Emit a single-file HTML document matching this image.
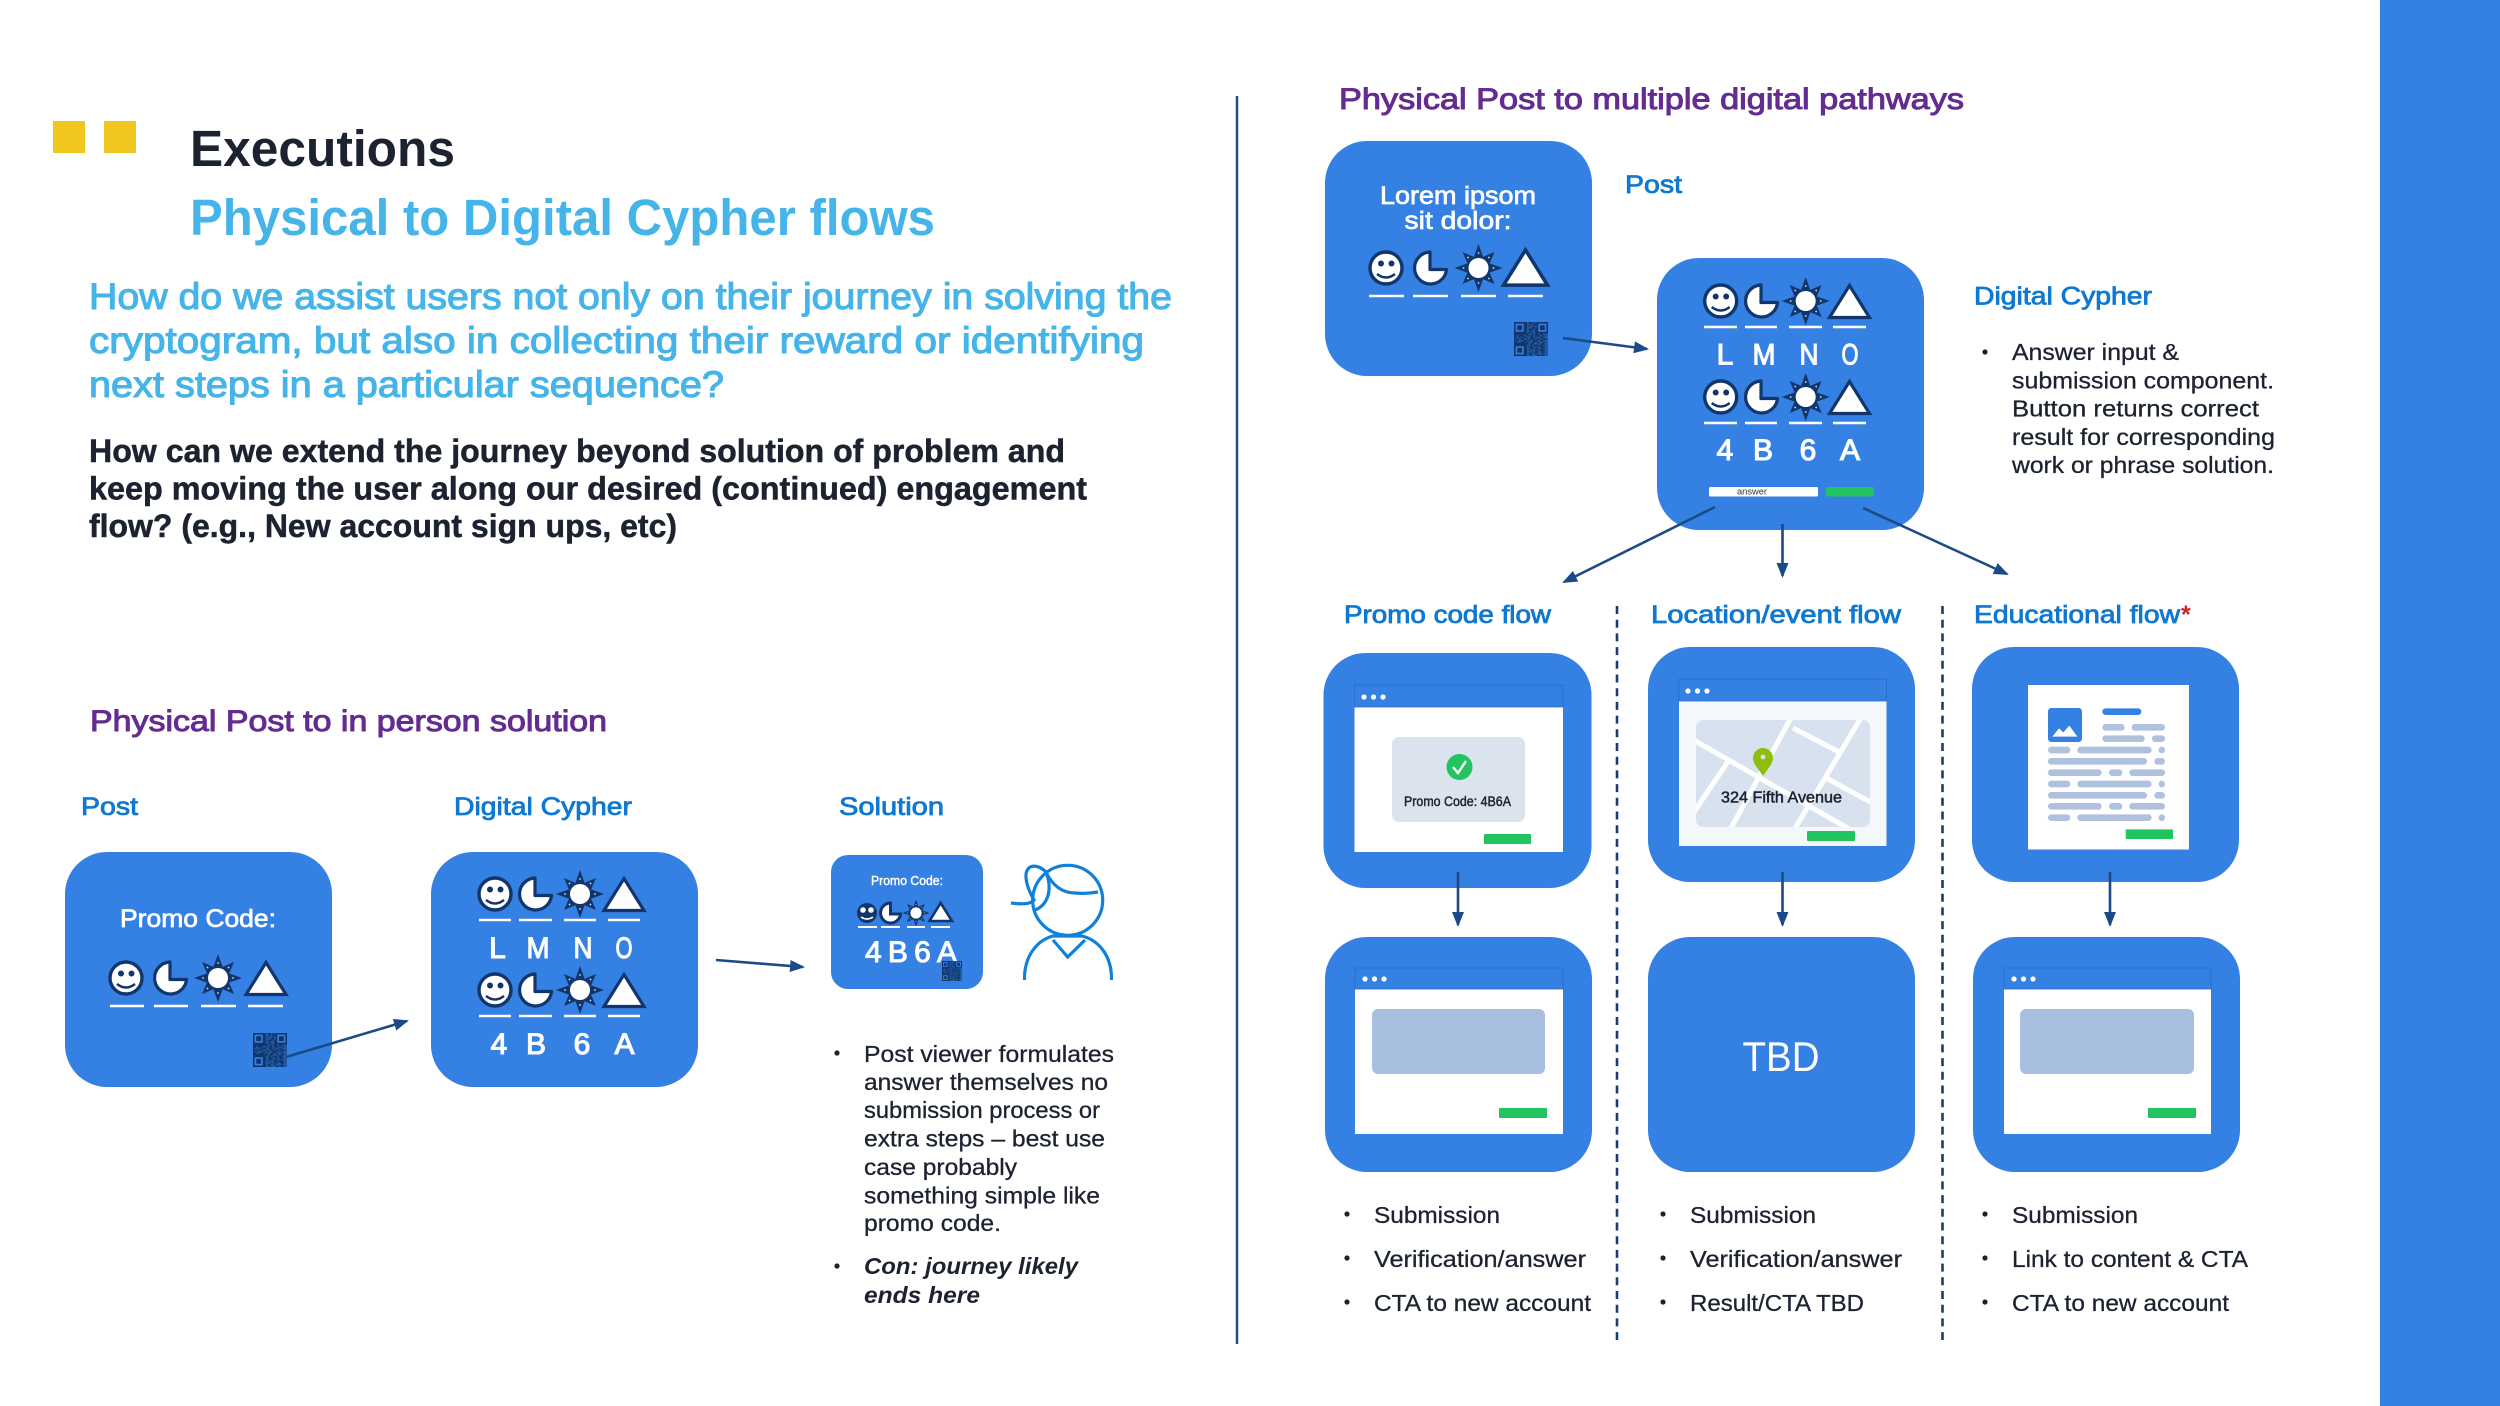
<!DOCTYPE html>
<html><head><meta charset="utf-8"><title>Executions</title>
<style>
html,body{margin:0;padding:0;background:#fff}
svg{display:block;font-family:"Liberation Sans",sans-serif}
.m{stroke-width:.6px;paint-order:stroke}
.h{font-size:25px;fill:#0f78d0;stroke:#0f78d0;stroke-width:.8px}
.b{font-size:23px;fill:#1c2230;stroke:#1c2230;stroke-width:.3px}
.p{font-size:30px;fill:#642c90;stroke:#642c90;stroke-width:1px}
.q{font-size:37px;fill:#45b4e8;stroke:#45b4e8;stroke-width:1.1px}
.k{font-size:32px;font-weight:bold;fill:#1c2230;stroke:#1c2230;stroke-width:.5px}
.l{font-size:30px;fill:#fff;stroke:#fff;text-anchor:middle;stroke-width:1.1px}
.w{font-size:25px;fill:#fff;stroke:#fff;text-anchor:middle;stroke-width:.7px}
.a{stroke:#1b4a86;stroke-width:2.6;fill:none;marker-end:url(#ah)}
.u{stroke:#fff;stroke-width:2.6}
</style></head><body>
<svg width="2500" height="1406" viewBox="0 0 2500 1406" xmlns="http://www.w3.org/2000/svg">
<defs>
<marker id="ah" markerUnits="userSpaceOnUse" markerWidth="16" markerHeight="14" refX="13" refY="6" orient="auto"><path d="M0 0L15 6L0 12Z" fill="#1b4a86"/></marker>
<g id="sm"><circle r="16" fill="#fff" stroke="#12366b" stroke-width="3.4"/><circle cx="-5" cy="-4.5" r="3" fill="#12366b"/><circle cx="5.5" cy="-4.5" r="3" fill="#12366b"/><path d="M-9 6Q0 13 9 6" fill="none" stroke="#12366b" stroke-width="2.4"/></g>
<g id="pi"><path d="M0 -16A16 16 0 1 0 16.5 1.5L0 1.5Z" fill="#fff" stroke="#12366b" stroke-width="3.2" stroke-linejoin="round"/></g>
<g id="st"><path d="M0 -24L4.6 -11.1L16 -16L11.1 -4.6L24 0L11.1 4.6L16 16L4.6 11.1L0 24L-4.6 11.1L-16 16L-11.1 4.6L-24 0L-11.1 -4.6L-16 -16L-4.6 -11.1Z" fill="#12366b"/><circle r="10" fill="#fff"/><g fill="#cfe0f5"><circle cy="-15" r=".9"/><circle cy="15" r=".9"/><circle cx="-15" r=".9"/><circle cx="15" r=".9"/><circle cx="10.5" cy="-10.5" r=".9"/><circle cx="-10.5" cy="-10.5" r=".9"/><circle cx="10.5" cy="10.5" r=".9"/><circle cx="-10.5" cy="10.5" r=".9"/></g></g>
<g id="tr"><path d="M0 -15.5L20 16.5L-20 16.5Z" fill="#fff" stroke="#12366b" stroke-width="3.2" stroke-linejoin="miter"/></g>
<g id="qr" fill="none" stroke="#12366b">
<rect width="21" height="21" fill="#12366b" fill-opacity=".55" stroke="none"/>
<path d="M0 .5h21" stroke-dasharray="8 1 2 1 1 1 7"/><path d="M0 1.5h21" stroke-dasharray="8 2 1 1 2 7"/>
<path d="M0 2.5h21" stroke-dasharray="8 1 1 2 1 1 7"/><path d="M0 3.5h21" stroke-dasharray="8 3 2 8"/>
<path d="M0 4.5h21" stroke-dasharray="8 1 3 1 8"/><path d="M0 5.5h21" stroke-dasharray="8 2 1 2 8"/>
<path d="M0 6.5h21" stroke-dasharray="8 1 2 2 8"/><path d="M0 7.5h21" stroke-dasharray="9 2 1 1 2 1 2 3"/>
<path d="M0 8.5h21" stroke-dasharray="2 1 3 2 1 1 2 1 3 2 1 2"/><path d="M0 9.5h21" stroke-dasharray="1 2 1 1 3 2 2 1 1 2 2 3"/>
<path d="M0 10.5h21" stroke-dasharray="3 1 2 2 1 1 3 1 2 1 3 1"/><path d="M0 11.5h21" stroke-dasharray="1 1 1 3 2 1 1 2 3 1 2 3"/>
<path d="M0 12.5h21" stroke-dasharray="2 2 3 1 1 2 2 1 1 3 1 2"/><path d="M0 13.5h21" stroke-dasharray="9 1 2 3 1 1 2 2"/>
<path d="M0 14.5h21" stroke-dasharray="8 2 1 1 3 1 2 3"/><path d="M0 15.5h21" stroke-dasharray="8 1 3 2 1 1 3 2"/>
<path d="M0 16.5h21" stroke-dasharray="8 2 2 1 2 2 1 3"/><path d="M0 17.5h21" stroke-dasharray="8 1 1 3 1 1 4 2"/>
<path d="M0 18.5h21" stroke-dasharray="8 3 1 1 2 2 2 2"/><path d="M0 19.5h21" stroke-dasharray="8 1 2 2 1 3 1 3"/>
<path d="M0 20.5h21" stroke-dasharray="8 2 1 3 2 1 2 2"/>
<rect x=".5" y=".5" width="6" height="6" fill="#3580e3"/><rect x="14.5" y=".5" width="6" height="6" fill="#3580e3"/><rect x=".5" y="14.5" width="6" height="6" fill="#3580e3"/>
<path d="M2 3.5h3M16 3.5h3M2 17.5h3" stroke-width="3"/>
</g>
<g id="dots" fill="#fff"><circle cx="0" r="2.6"/><circle cx="9.5" r="2.6"/><circle cx="19" r="2.6"/></g>
<clipPath id="mapc"><rect x="1696" y="720" width="174" height="107" rx="7"/></clipPath>
</defs>

<rect width="2500" height="1406" fill="#fff"/>
<rect x="2380" y="0" width="120" height="1406" fill="#3580e3"/>
<rect x="53" y="121" width="32" height="32" fill="#f0c61f"/><rect x="104" y="121" width="32" height="32" fill="#f0c61f"/>

<text x="190" y="166" font-size="51" font-weight="bold" fill="#1c2230" textLength="265" lengthAdjust="spacingAndGlyphs">Executions</text>
<text x="190" y="235" font-size="51" font-weight="bold" fill="#45b4e8" textLength="745" lengthAdjust="spacingAndGlyphs">Physical to Digital Cypher flows</text>
<text x="89" y="309" class="q m" style="stroke-width:1.1px" textLength="1083" lengthAdjust="spacingAndGlyphs">How do we assist users not only on their journey in solving the</text>
<text x="89" y="353" class="q m" style="stroke-width:1.1px" textLength="1055" lengthAdjust="spacingAndGlyphs">cryptogram, but also in collecting their reward or identifying</text>
<text x="89" y="397" class="q m" style="stroke-width:1.1px" textLength="635" lengthAdjust="spacingAndGlyphs">next steps in a particular sequence?</text>
<text x="89" y="462" class="k" textLength="976" lengthAdjust="spacingAndGlyphs">How can we extend the journey beyond solution of problem and</text>
<text x="89" y="499.5" class="k" textLength="998" lengthAdjust="spacingAndGlyphs">keep moving the user along our desired (continued) engagement</text>
<text x="89" y="537" class="k" textLength="588" lengthAdjust="spacingAndGlyphs">flow? (e.g., New account sign ups, etc)</text>

<text x="90" y="731" class="p m" style="stroke-width:1px" textLength="517" lengthAdjust="spacingAndGlyphs">Physical Post to in person solution</text>
<text x="81" y="815" class="h m" style="stroke-width:.8px" textLength="57" lengthAdjust="spacingAndGlyphs">Post</text>
<text x="454" y="815" class="h m" style="stroke-width:.8px" textLength="178" lengthAdjust="spacingAndGlyphs">Digital Cypher</text>
<text x="839" y="815" class="h m" style="stroke-width:.8px" textLength="105" lengthAdjust="spacingAndGlyphs">Solution</text>

<!-- Left post card -->
<rect x="65" y="852" width="267" height="235" rx="42" fill="#3580e3"/>
<text x="198" y="927" class="w m" style="stroke-width:.7px" textLength="156" lengthAdjust="spacingAndGlyphs">Promo Code:</text>
<use href="#sm" x="126" y="978"/><use href="#pi" x="170" y="978"/><use href="#st" x="218" y="978"/><use href="#tr" x="266" y="978"/>
<path class="u" d="M110 1006H144M154 1006H188M201 1006H236M248 1006H283"/>
<use href="#qr" transform="translate(253 1033) scale(1.62)"/>

<!-- Left cypher card -->
<rect x="431" y="852" width="267" height="235" rx="42" fill="#3580e3"/>
<use href="#sm" x="495" y="894"/><use href="#pi" x="535" y="894"/><use href="#st" x="580" y="894"/><use href="#tr" x="624" y="894"/>
<path class="u" d="M479 920H511M519 920H552M564 920H596M608 920H640"/>
<text x="497.5" y="958" class="l">L</text><text x="538" y="958" class="l" textLength="23" lengthAdjust="spacingAndGlyphs">M</text><text x="583" y="958" class="l" textLength="19" lengthAdjust="spacingAndGlyphs">N</text><text x="624" y="958" class="l" textLength="17" lengthAdjust="spacingAndGlyphs">O</text>
<use href="#sm" x="495" y="990"/><use href="#pi" x="535" y="990"/><use href="#st" x="580" y="990"/><use href="#tr" x="624" y="990"/>
<path class="u" d="M479 1016H511M519 1016H552M564 1016H596M608 1016H640"/>
<text x="499" y="1054" class="l">4</text><text x="536" y="1054" class="l">B</text><text x="582" y="1054" class="l">6</text><text x="624.5" y="1054" class="l">A</text>

<path class="a" d="M286 1057L407 1021"/>
<path class="a" d="M716 960L803 967"/>

<!-- Solution card -->
<rect x="831" y="855" width="152" height="134" rx="17" fill="#3580e3"/>
<text x="907" y="885" font-size="12.5" fill="#fff" stroke="#fff" text-anchor="middle" class="m" style="stroke-width:.4px" textLength="72" lengthAdjust="spacingAndGlyphs">Promo Code:</text>
<circle cx="867" cy="913" r="10" fill="#12366b"/><circle cx="863" cy="910" r="2.8" fill="#fff"/><circle cx="871" cy="910" r="2.8" fill="#fff"/><path d="M861 917Q867 921 873 917" stroke="#fff" stroke-width="1.6" fill="none"/>
<path d="M890.5 903A10 10 0 1 0 900.5 914L890.5 914Z" fill="#fff" stroke="#12366b" stroke-width="3"/>
<use href="#st" transform="translate(916 913) scale(.56)"/><circle cx="916" cy="913" r="5" fill="#fff"/>
<path d="M940.7 903L952 921H929.5Z" fill="#fff" stroke="#12366b" stroke-width="2.6"/>
<path d="M858 927H877M881 927H900M907 927H925M931 927H950" stroke="#fff" stroke-width="2"/>
<text x="865" y="962" font-size="30" fill="#fff" stroke="#fff" class="m" style="stroke-width:1px" textLength="92" lengthAdjust="spacing">4B6A</text>
<use href="#qr" transform="translate(942 961) scale(.95)"/>

<!-- Person -->
<g fill="none" stroke="#1080d8" stroke-width="3.2">
<circle cx="1067.7" cy="900.3" r="35"/>
<path d="M1046 872C1052 885 1062 893 1075 893C1085 894 1092 893 1098 892"/>
<path d="M1046 872C1040 866 1032 864 1028 869C1023 875 1028 890 1034 900C1030 905 1020 904 1011 903"/>
<path d="M1047 875C1052 890 1048 905 1035 910"/>
<path d="M1024.5 980C1024 955 1038 940 1053 936L1082 936C1098 940 1112 955 1111.5 980"/>
<path d="M1053 940L1067.7 957L1085 940"/>
</g>

<!-- Solution bullets -->
<circle cx="837" cy="1053" r="2.6" fill="#1c2230"/>
<text x="864" y="1062" class="b m" style="stroke-width:.3px" textLength="250" lengthAdjust="spacingAndGlyphs">Post viewer formulates</text>
<text x="864" y="1090" class="b m" style="stroke-width:.3px" textLength="244" lengthAdjust="spacingAndGlyphs">answer themselves no</text>
<text x="864" y="1118" class="b m" style="stroke-width:.3px" textLength="236" lengthAdjust="spacingAndGlyphs">submission process or</text>
<text x="864" y="1146.5" class="b m" style="stroke-width:.3px" textLength="241" lengthAdjust="spacingAndGlyphs">extra steps – best use</text>
<text x="864" y="1175" class="b m" style="stroke-width:.3px" textLength="153" lengthAdjust="spacingAndGlyphs">case probably</text>
<text x="864" y="1203.5" class="b m" style="stroke-width:.3px" textLength="236" lengthAdjust="spacingAndGlyphs">something simple like</text>
<text x="864" y="1231" class="b m" style="stroke-width:.3px" textLength="137" lengthAdjust="spacingAndGlyphs">promo code.</text>
<circle cx="837" cy="1266" r="2.6" fill="#1c2230"/>
<text x="864" y="1274" font-size="23" font-weight="bold" font-style="italic" fill="#1c2230" textLength="214" lengthAdjust="spacingAndGlyphs">Con: journey likely</text>
<text x="864" y="1303" font-size="23" font-weight="bold" font-style="italic" fill="#1c2230" textLength="116" lengthAdjust="spacingAndGlyphs">ends here</text>

<!-- Divider -->
<path d="M1237 96V1344" stroke="#1b4a86" stroke-width="2.4"/>

<!-- Right top -->
<text x="1339" y="109" class="p m" style="stroke-width:1px" textLength="625" lengthAdjust="spacingAndGlyphs">Physical Post to multiple digital pathways</text>
<rect x="1325" y="141" width="267" height="235" rx="42" fill="#3580e3"/>
<text x="1458" y="204" class="w m" style="stroke-width:.7px" textLength="156" lengthAdjust="spacingAndGlyphs">Lorem ipsom</text>
<text x="1458" y="229" class="w m" style="stroke-width:.7px" textLength="107" lengthAdjust="spacingAndGlyphs">sit dolor:</text>
<use href="#sm" x="1386" y="268"/><use href="#pi" x="1430" y="268"/><use href="#st" x="1478.5" y="268"/><use href="#tr" transform="translate(1525.5 267) scale(1.1)"/>
<path class="u" d="M1369 296H1404M1413 296H1448M1461 296H1496M1508 296H1543"/>
<use href="#qr" transform="translate(1514 322) scale(1.62)"/>
<text x="1625" y="193" class="h m" style="stroke-width:.8px" textLength="57" lengthAdjust="spacingAndGlyphs">Post</text>

<rect x="1657" y="258" width="267" height="272" rx="42" fill="#3580e3"/>
<use href="#sm" x="1720.7" y="301"/><use href="#pi" x="1761" y="301"/><use href="#st" x="1805.7" y="301"/><use href="#tr" x="1849.5" y="301"/>
<path class="u" d="M1704 327H1737M1745 327H1777M1789 327H1822M1833 327H1866"/>
<text x="1725" y="364.5" class="l">L</text><text x="1764" y="364.5" class="l" textLength="23" lengthAdjust="spacingAndGlyphs">M</text><text x="1809" y="364.5" class="l" textLength="19" lengthAdjust="spacingAndGlyphs">N</text><text x="1850" y="364.5" class="l" textLength="17" lengthAdjust="spacingAndGlyphs">O</text>
<use href="#sm" x="1720.7" y="397"/><use href="#pi" x="1761" y="397"/><use href="#st" x="1805.7" y="397"/><use href="#tr" x="1849.5" y="397"/>
<path class="u" d="M1704 423H1737M1745 423H1777M1789 423H1822M1833 423H1866"/>
<text x="1725" y="460" class="l">4</text><text x="1763" y="460" class="l">B</text><text x="1808" y="460" class="l">6</text><text x="1850" y="460" class="l">A</text>
<rect x="1709" y="487" width="109" height="9.5" rx="1.5" fill="#fff"/>
<text x="1737" y="494.5" font-size="9.5" fill="#333" textLength="30" lengthAdjust="spacingAndGlyphs">answer</text>
<rect x="1826" y="487" width="48" height="9.5" rx="1.5" fill="#21c45f"/>

<path class="a" d="M1563 338L1647 349"/>
<path class="a" d="M1715 507L1564 582"/>
<path class="a" d="M1782.5 524V576"/>
<path class="a" d="M1863 508L2007 574"/>

<text x="1974" y="304.5" class="h m" style="stroke-width:.8px" textLength="178" lengthAdjust="spacingAndGlyphs">Digital Cypher</text>
<circle cx="1985" cy="352" r="2.6" fill="#1c2230"/>
<text x="2012" y="360" class="b m" style="stroke-width:.3px" textLength="167" lengthAdjust="spacingAndGlyphs">Answer input &amp;</text>
<text x="2012" y="388.5" class="b m" style="stroke-width:.3px" textLength="262" lengthAdjust="spacingAndGlyphs">submission component.</text>
<text x="2012" y="416.5" class="b m" style="stroke-width:.3px" textLength="247" lengthAdjust="spacingAndGlyphs">Button returns correct</text>
<text x="2012" y="445" class="b m" style="stroke-width:.3px" textLength="263" lengthAdjust="spacingAndGlyphs">result for corresponding</text>
<text x="2012" y="473" class="b m" style="stroke-width:.3px" textLength="262" lengthAdjust="spacingAndGlyphs">work or phrase solution.</text>

<!-- Flow headers -->
<text x="1344" y="623" class="h m" style="stroke-width:.8px" textLength="207" lengthAdjust="spacingAndGlyphs">Promo code flow</text>
<text x="1651" y="623" class="h m" style="stroke-width:.8px" textLength="250" lengthAdjust="spacingAndGlyphs">Location/event flow</text>
<text x="1974" y="623" class="h m" style="stroke-width:.8px" textLength="206" lengthAdjust="spacingAndGlyphs">Educational flow</text>
<text x="2181" y="623" font-size="25" font-weight="bold" fill="#d0202a">*</text>

<path d="M1617 606V1340M1942.5 606V1340" stroke="#1b3c70" stroke-width="2.6" stroke-dasharray="8 5.7" fill="none"/>

<!-- Promo flow top -->
<rect x="1323.5" y="653" width="268" height="235" rx="42" fill="#3580e3"/>
<rect x="1354.5" y="685" width="208.5" height="167" fill="#fff"/>
<rect x="1354.5" y="685" width="208.5" height="22" fill="#3580e3" stroke="#2a6cc4" stroke-width=".8"/>
<use href="#dots" x="1364" y="697"/>
<rect x="1392" y="737" width="133" height="85" rx="7" fill="#dbe3ee"/>
<circle cx="1459.5" cy="767" r="13" fill="#21c45f"/><path d="M1453 767L1458 773L1466 761" stroke="#fff" stroke-width="2.4" fill="none"/>
<text x="1404" y="806" font-size="13.5" fill="#1c2230" stroke="#1c2230" style="stroke-width:.45px" textLength="107" lengthAdjust="spacingAndGlyphs">Promo Code: 4B6A</text>
<rect x="1484" y="834" width="47" height="10" rx="1" fill="#21c45f"/>

<!-- Location top -->
<rect x="1648" y="647" width="267" height="235" rx="42" fill="#3580e3"/>
<rect x="1679" y="679" width="207.5" height="167" fill="#f5f8fb"/>
<rect x="1679" y="679" width="207.5" height="22" fill="#3580e3" stroke="#2a6cc4" stroke-width=".8"/>
<use href="#dots" x="1688" y="691"/>
<rect x="1696" y="720" width="174" height="107" rx="7" fill="#d8e1ee"/>
<g clip-path="url(#mapc)" stroke="#fff" stroke-width="5" fill="none">
<path d="M1690 738L1851 830M1792 716L1730 830M1862 716L1794 830M1729 760L1694 812M1793 728L1839 752M1826 778L1874 804"/>
</g>
<path d="M1763 748C1757 748 1753 753 1753 758C1753 764 1760 771 1763 776C1766 771 1773 764 1773 758C1773 753 1769 748 1763 748Z" fill="#8fbd0e"/><circle cx="1763" cy="757" r="2.4" fill="#d8e1ee"/>
<text x="1721" y="802.5" font-size="16" fill="#1c2230" stroke="#1c2230" style="stroke-width:.5px" textLength="121" lengthAdjust="spacingAndGlyphs">324 Fifth Avenue</text>
<rect x="1807" y="831" width="48" height="10" rx="1" fill="#21c45f"/>

<!-- Educational top -->
<rect x="1972" y="647" width="267" height="235" rx="42" fill="#3580e3"/>
<rect x="2028" y="685" width="161" height="164.5" fill="#fff"/>
<g transform="translate(1960 640) scale(.33333)">
<rect x="264" y="204" width="102" height="102" rx="10" fill="#3580e3"/>
<path d="M277 290L297 265L310 277L328 257L352 290Z" fill="#fff"/>
<rect x="427" y="205" width="117" height="20" rx="10" fill="#3580e3"/>
<g fill="#afc1dd">
<rect x="427" y="252" width="67" height="20" rx="10"/><rect x="515" y="252" width="100" height="20" rx="10"/>
<rect x="427" y="286" width="127" height="20" rx="10"/><rect x="576" y="286" width="39" height="20" rx="10"/>
<rect x="264" y="320" width="67" height="20" rx="10"/><rect x="352" y="320" width="223" height="20" rx="10"/><rect x="596" y="320" width="19" height="20" rx="9.5"/>
<rect x="264" y="354" width="297" height="20" rx="10"/><rect x="583" y="354" width="32" height="20" rx="10"/>
<rect x="264" y="388" width="161" height="20" rx="10"/><rect x="447" y="388" width="40" height="20" rx="10"/><rect x="508" y="388" width="107" height="20" rx="10"/>
<rect x="264" y="422" width="67" height="20" rx="10"/><rect x="352" y="422" width="223" height="20" rx="10"/><rect x="596" y="422" width="19" height="20" rx="9.5"/>
<rect x="264" y="456" width="297" height="20" rx="10"/><rect x="583" y="456" width="32" height="20" rx="10"/>
<rect x="264" y="489" width="161" height="20" rx="10"/><rect x="447" y="489" width="40" height="20" rx="10"/><rect x="508" y="489" width="107" height="20" rx="10"/>
<rect x="264" y="523" width="67" height="20" rx="10"/><rect x="352" y="523" width="223" height="20" rx="10"/><rect x="596" y="523" width="19" height="20" rx="9.5"/>
</g>
<rect x="497" y="568" width="142" height="29" rx="3" fill="#21c45f"/>
</g>

<path class="a" d="M1458 872V925"/>
<path class="a" d="M1782.5 872V925"/>
<path class="a" d="M2110 872V925"/>

<!-- Second row -->
<rect x="1325" y="937" width="267" height="235" rx="42" fill="#3580e3"/>
<rect x="1355" y="968" width="208" height="166" fill="#fff"/>
<rect x="1355" y="968" width="208" height="21" fill="#3580e3" stroke="#2a6cc4" stroke-width=".8"/>
<use href="#dots" x="1365" y="979"/>
<rect x="1372" y="1009" width="173" height="65" rx="6" fill="#a9bfe0"/>
<rect x="1499" y="1108" width="48" height="10" rx="1" fill="#21c45f"/>

<rect x="1648" y="937" width="267" height="235" rx="42" fill="#3580e3"/>
<text x="1781" y="1071" font-size="42" fill="#fff" text-anchor="middle" textLength="77" lengthAdjust="spacingAndGlyphs">TBD</text>

<rect x="1973" y="937" width="267" height="235" rx="42" fill="#3580e3"/>
<rect x="2004" y="968" width="207" height="166" fill="#fff"/>
<rect x="2004" y="968" width="207" height="21" fill="#3580e3" stroke="#2a6cc4" stroke-width=".8"/>
<use href="#dots" x="2014" y="979"/>
<rect x="2020" y="1009" width="174" height="65" rx="6" fill="#a9bfe0"/>
<rect x="2148" y="1108" width="48" height="10" rx="1" fill="#21c45f"/>

<!-- Lists -->
<g fill="#1c2230">
<circle cx="1347" cy="1214" r="2.6"/><circle cx="1347" cy="1258" r="2.6"/><circle cx="1347" cy="1302" r="2.6"/>
<circle cx="1663" cy="1214" r="2.6"/><circle cx="1663" cy="1258" r="2.6"/><circle cx="1663" cy="1302" r="2.6"/>
<circle cx="1985" cy="1214" r="2.6"/><circle cx="1985" cy="1258" r="2.6"/><circle cx="1985" cy="1302" r="2.6"/>
</g>
<text x="1374" y="1223" class="b m" style="stroke-width:.3px" textLength="126" lengthAdjust="spacingAndGlyphs">Submission</text>
<text x="1374" y="1267" class="b m" style="stroke-width:.3px" textLength="212" lengthAdjust="spacingAndGlyphs">Verification/answer</text>
<text x="1374" y="1311" class="b m" style="stroke-width:.3px" textLength="217" lengthAdjust="spacingAndGlyphs">CTA to new account</text>
<text x="1690" y="1223" class="b m" style="stroke-width:.3px" textLength="126" lengthAdjust="spacingAndGlyphs">Submission</text>
<text x="1690" y="1267" class="b m" style="stroke-width:.3px" textLength="212" lengthAdjust="spacingAndGlyphs">Verification/answer</text>
<text x="1690" y="1311" class="b m" style="stroke-width:.3px" textLength="174" lengthAdjust="spacingAndGlyphs">Result/CTA TBD</text>
<text x="2012" y="1223" class="b m" style="stroke-width:.3px" textLength="126" lengthAdjust="spacingAndGlyphs">Submission</text>
<text x="2012" y="1267" class="b m" style="stroke-width:.3px" textLength="236" lengthAdjust="spacingAndGlyphs">Link to content &amp; CTA</text>
<text x="2012" y="1311" class="b m" style="stroke-width:.3px" textLength="217" lengthAdjust="spacingAndGlyphs">CTA to new account</text>
</svg>
</body></html>
